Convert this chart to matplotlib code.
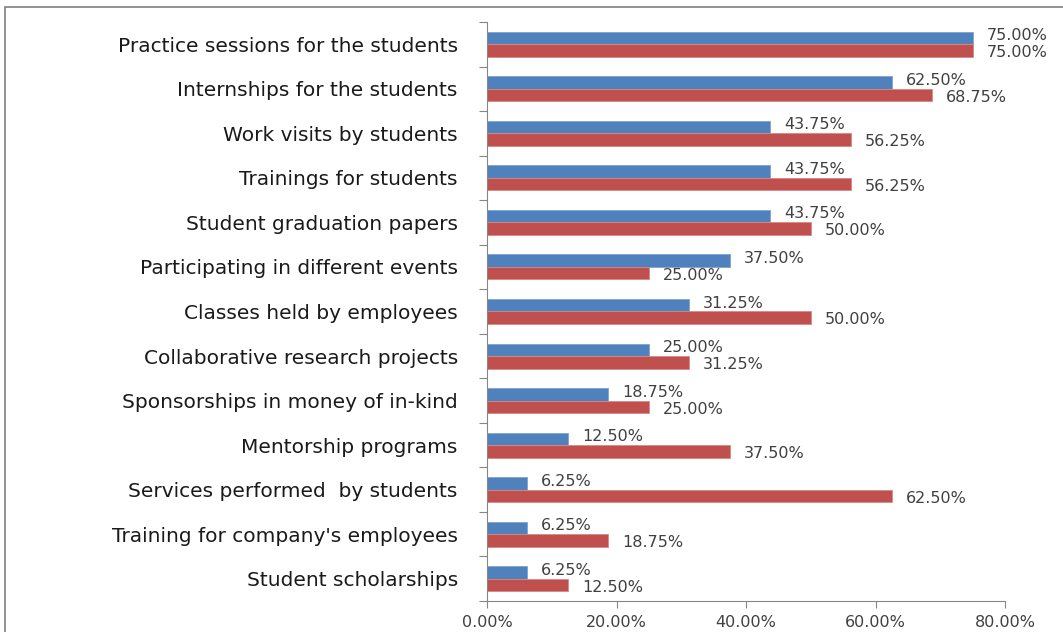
import matplotlib.pyplot as plt
import numpy as np
from matplotlib.patches import Rectangle

plt.rcParams['font.family'] = ['DejaVu Sans']

categories = [
    "Practice sessions for the students",
    "Internships for the students",
    "Work visits by students",
    "Trainings for students",
    "Student graduation papers",
    "Participating in different events",
    "Classes held by employees",
    "Collaborative research projects",
    "Sponsorships in money of in-kind",
    "Mentorship programs",
    "Services performed  by students",
    "Training for company's employees",
    "Student scholarships",
]
blue_values = [75.00, 62.50, 43.75, 43.75, 43.75, 37.50, 31.25, 25.00, 18.75, 12.50, 6.25, 6.25, 6.25]
red_values = [75.00, 68.75, 56.25, 56.25, 50.00, 25.00, 50.00, 31.25, 25.00, 37.50, 62.50, 18.75, 12.50]
x_ticks = [0, 20, 40, 60, 80]

blue = '#4F81BD'
red = '#C0504D'
grey = '#868686'

fig = plt.figure(figsize=(10.63, 6.32), dpi=100)
ax = fig.add_axes([487 / 1063, 1 - 601 / 632, 518 / 1063, 579 / 632])

# frame around the chart area
fig.patches.append(Rectangle((5 / 1063, -0.1), 1.2, 1 - 7 / 632 + 0.1,
                             transform=fig.transFigure, fill=False,
                             edgecolor='#7f7f7f', linewidth=1.2))

y = np.arange(len(categories))
h = 0.28
ax.barh(y - h / 2, blue_values, height=h, color=blue, edgecolor='#7fa3d1', linewidth=0.6)
ax.barh(y + h / 2, red_values, height=h, color=red, edgecolor='#d98886', linewidth=0.6)

for yi, v in zip(y, blue_values):
    ax.annotate(f"{v:.2f}%", (v, yi - h / 2 - 0.05), xytext=(10, 0), textcoords='offset points',
                va='center', ha='left', fontsize=11.5, color='#404040')
for yi, v in zip(y, red_values):
    ax.annotate(f"{v:.2f}%", (v, yi + h / 2 + 0.05), xytext=(10, 0), textcoords='offset points',
                va='center', ha='left', fontsize=11.5, color='#404040')

ax.set_xlim(0, 80)
ax.set_ylim(len(categories) - 0.5, -0.5)

ax.set_xticks(x_ticks)
ax.set_xticklabels([f"{t:.2f}%" for t in x_ticks], fontsize=11.5, color='#404040')
ax.set_yticks(np.arange(len(categories) + 1) - 0.5)
ax.set_yticklabels([])
ax.set_yticks(y, minor=True)
ax.set_yticklabels(categories, minor=True, fontsize=14.5, color='#1a1a1a')
ax.tick_params(axis='y', which='minor', length=0, pad=21)
ax.tick_params(axis='y', which='major', length=6, color=grey)
ax.tick_params(axis='x', length=5, color=grey, pad=5)

for s in ['top', 'right']:
    ax.spines[s].set_visible(False)
for s in ['left', 'bottom']:
    ax.spines[s].set_color(grey)

fig.savefig('out.png', dpi=100)
